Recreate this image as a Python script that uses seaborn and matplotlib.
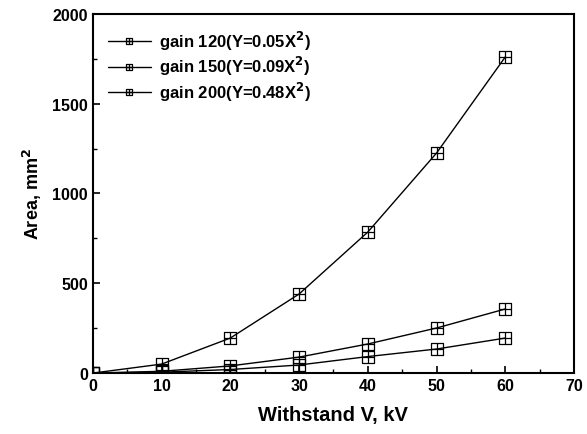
import numpy as np
import pandas as pd
import matplotlib
matplotlib.use("Agg")
import matplotlib.pyplot as plt
from matplotlib.path import Path
import seaborn as sns

# Withstand voltage (kV) and required area (mm^2) for each gain setting
voltage = [0, 10, 20, 30, 40, 50, 60]
area_gain120 = [0, 5, 20, 45, 92, 134, 195]
area_gain150 = [0, 10, 40, 89, 162, 251, 357]
area_gain200 = [0, 50, 195, 440, 785, 1225, 1760]

labels = [
    "gain 120(Y=0.05X$^{2}$)",
    "gain 150(Y=0.09X$^{2}$)",
    "gain 200(Y=0.48X$^{2}$)",
]
x_ticks = [0, 10, 20, 30, 40, 50, 60, 70]
y_ticks = [0, 500, 1000, 1500, 2000]

sns.set_style("ticks")
plt.rcParams["font.family"] = ["Liberation Sans", "DejaVu Sans"]
plt.rcParams["font.weight"] = "bold"
plt.rcParams["mathtext.default"] = "bf"
for k in ["text.color", "axes.labelcolor", "xtick.color", "ytick.color", "axes.edgecolor"]:
    plt.rcParams[k] = "black"

# square marker with a cross inside
M, L, C = Path.MOVETO, Path.LINETO, Path.CLOSEPOLY
box_cross = Path(
    [(-1, -1), (1, -1), (1, 1), (-1, 1), (-1, -1), (0, -1), (0, 1), (-1, 0), (1, 0)],
    [M, L, L, L, C, M, L, M, L],
)

fig = plt.figure(figsize=(5.87, 4.35), dpi=100)
ax = fig.add_axes([0.158, 0.140, 0.820, 0.826])

for ys, lab in zip([area_gain120, area_gain150, area_gain200], labels):
    df = pd.DataFrame({"V": voltage, "A": ys})
    sns.lineplot(
        data=df, x="V", y="A", ax=ax, color="black", lw=1.0,
        marker=box_cross, markersize=8, markerfacecolor="none",
        markeredgecolor="black", markeredgewidth=0.9, label=lab,
    )

ax.set_xlim(0, 70)
ax.set_ylim(0, 2000)
ax.set_xticks(x_ticks)
ax.set_yticks(y_ticks)
ax.set_xticks(np.arange(5, 70, 10), minor=True)
ax.set_yticks(np.arange(250, 2000, 500), minor=True)
ax.tick_params(which="both", direction="in", top=False, right=False, labelsize=11.5)
ax.tick_params(which="major", length=5, width=1.2)
ax.tick_params(which="minor", length=3, width=1.0)
for lbl in ax.get_xticklabels() + ax.get_yticklabels():
    lbl.set_fontweight("bold")
for s in ax.spines.values():
    s.set_linewidth(1.5)
    s.set_visible(True)

ax.set_xlabel("Withstand V, kV", fontsize=14.5, fontweight="bold", labelpad=9)
ax.set_ylabel("Area, mm$^{2}$", fontsize=13, fontweight="bold", labelpad=6)

leg = ax.legend(
    loc="upper left", frameon=False, handlelength=2.6,
    handletextpad=0.5, labelspacing=0.15, borderaxespad=0.5,
    prop={"weight": "bold", "size": 12},
)
for h in leg.legend_handles:
    h.set_markersize(5)

fig.savefig("out.png", dpi=100)
